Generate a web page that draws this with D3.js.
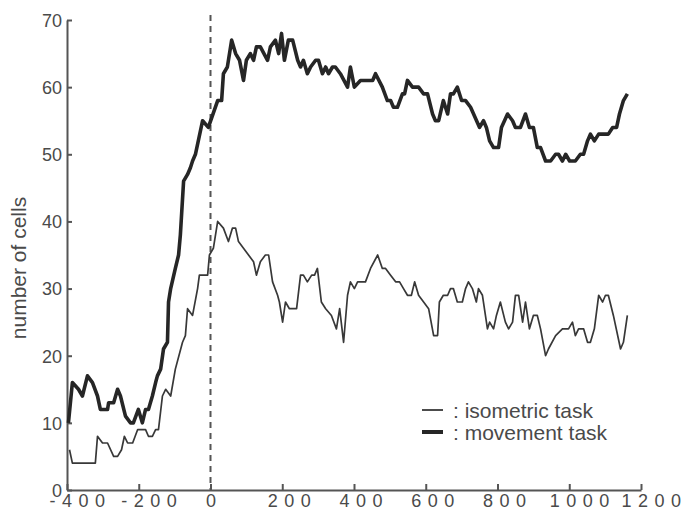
<!DOCTYPE html>
<html>
<head>
<meta charset="utf-8">
<script src="https://cdn.jsdelivr.net/npm/d3@7"></script>
<style>
  body { margin: 0; background: #fff; }
  svg text { font-family: "Liberation Sans", Arial, sans-serif; fill: #4a4a4a; }
</style>
</head>
<body>
<svg id="chart"></svg>
<script>
// time (ms) and number of cells
const moveTime = [-396,-385,-368,-357,-343,-329,-315,-307,-287,-284,-270,-259,-251,-237,-223,-215,-201,-190,-181,-173,-162,-153,-148,-139,-131,-120,-117,-111,-98,-89,-84,-75,-64,-56,-50,-42,-22,-6,20,31,36,47,59,70,81,92,100,111,120,128,139,159,167,181,190,198,206,217,229,243,251,259,270,279,293,301,312,321,329,340,348,362,382,390,401,418,452,460,479,493,502,510,521,535,541,549,563,580,594,605,619,627,636,649,661,669,677,688,700,711,725,750,761,769,778,789,803,811,828,842,850,864,878,889,900,911,920,934,948,962,970,981,990,1001,1017,1031,1040,1051,1059,1070,1082,1109,1121,1132,1140,1151,1162];
const moveCells = [10,16,15,14,17,16,14,12,12,13,13,15,14,11,10,10,12,10,12,12,14,16,17,18,21,22,28,30,33,35,38,46,47,48,49,50,55,54,58,58,62,63,67,65,64,61,64,65,64,66,66,64,66,67,65,68,64,67,67,64,63,64,62,63,64,64,62,63,62,63,63,62,60,63,60,61,61,62,60,58,58,57,57,59,59,61,60,60,59,59,56,55,55,58,56,59,59,60,58,58,57,54,55,54,52,51,51,54,56,55,54,54,56,54,54,51,51,49,49,50,50,49,50,49,49,50,50,52,53,52,53,53,54,54,56,58,59];

const isoTime = [-393,-385,-321,-315,-301,-287,-270,-259,-248,-240,-231,-217,-203,-181,-173,-162,-153,-145,-134,-125,-111,-98,-78,-70,-64,-50,-36,-31,-8,-3,8,20,36,50,61,70,78,92,106,120,128,139,153,162,173,187,192,201,209,220,240,251,259,270,282,290,298,309,321,337,351,360,371,382,390,401,410,432,446,466,479,488,502,516,527,538,549,560,569,580,594,608,622,633,638,649,661,669,677,688,702,711,719,730,741,747,758,772,778,789,797,808,822,831,842,850,859,870,878,889,900,911,920,934,942,962,981,998,1009,1017,1026,1040,1051,1059,1070,1082,1093,1101,1109,1123,1143,1151,1162];
const isoCells = [6,4,4,8,7,7,5,5,6,8,7,7,9,9,8,8,9,9,14,15,14,18,22,23,27,26,30,32,32,35,36,40,39,37,39,39,37,36,35,34,32,34,35,35,31,29,28,25,28,27,27,32,32,31,32,32,33,28,27,26,24,27,22,29,31,30,31,31,33,35,33,33,32,31,31,30,29,29,31,29,28,27,23,23,28,29,29,30,30,28,28,30,31,30,28,30,29,24,25,24,26,28,25,24,25,29,29,25,28,24,26,26,24,20,21,23,24,24,25,23,24,24,22,22,24,29,28,29,29,26,21,22,26];

const xTicks = [-400,-200,0,200,400,600,800,1000,1200];
const yTicks = [0,10,20,30,40,50,60,70];
const legendLabels = [": isometric task", ": movement task"];

const width = 685, height = 515;
const margin = {top: 20, right: 44, bottom: 25, left: 67};
const spacing = 6.5; // wide digit spacing on the x labels

const svg = d3.select('#chart')
    .attr('width', width)
    .attr('height', height);

const x = d3.scaleLinear().domain([-400, 1200]).range([margin.left, width - margin.right]);
const y = d3.scaleLinear().domain([0, 70]).range([height - margin.bottom, margin.top]);

// dashed line at movement onset
svg.append('line')
    .attr('x1', x(0)).attr('x2', x(0))
    .attr('y1', y(70) - 5).attr('y2', y(0))
    .attr('stroke', '#555')
    .attr('stroke-width', 2)
    .attr('stroke-dasharray', '6,5');

// axes, ticks pointing inward
const xAxisG = svg.append('g')
    .attr('transform', `translate(0,${y(0)})`)
    .call(d3.axisBottom(x).tickValues(xTicks).tickFormat(d => String(d))
      .tickSizeInner(-6).tickSizeOuter(0).tickPadding(4));

const yAxisG = svg.append('g')
    .attr('transform', `translate(${x(-400)},0)`)
    .call(d3.axisLeft(y).tickValues(yTicks).tickSizeInner(-5).tickSizeOuter(0).tickPadding(5));

[xAxisG, yAxisG].forEach(g => {
  g.select('.domain').attr('stroke', '#555').attr('stroke-width', 2);
  g.selectAll('.tick line').attr('stroke', '#555').attr('stroke-width', 2);
  g.selectAll('.tick text').attr('fill', '#4a4a4a').style('font-size', '18px');
});

// spaced-out digits: start where the unspaced label would start,
// no spacing after the last character
xAxisG.selectAll('.tick text').each(function(d) {
  const t = d3.select(this);
  const w = this.getComputedTextLength();
  const s = String(d);
  t.text(null)
   .attr('text-anchor', 'start')
   .attr('x', -w / 2);
  if (s.length > 1) {
    t.append('tspan').style('letter-spacing', spacing + 'px').text(s.slice(0, -1));
  }
  t.append('tspan').text(s.slice(-1));
});

yAxisG.selectAll('.tick text').attr('x', -5).attr('dy', '0.35em');

// y label
svg.append('text')
    .attr('transform', 'translate(26,268) rotate(-90)')
    .attr('text-anchor', 'middle')
    .style('font-size', '21px')
    .text('number of cells');

const line = d3.line()
    .x(d => x(d[0]))
    .y(d => y(d[1]));

svg.append('path')
    .datum(isoTime.map((t, i) => [t, isoCells[i]]))
    .attr('fill', 'none')
    .attr('stroke', '#383838')
    .attr('stroke-width', 1.7)
    .attr('stroke-linejoin', 'round')
    .attr('d', line);

svg.append('path')
    .datum(moveTime.map((t, i) => [t, moveCells[i]]))
    .attr('fill', 'none')
    .attr('stroke', '#262626')
    .attr('stroke-width', 3.6)
    .attr('stroke-linejoin', 'round')
    .attr('d', line);

// legend
const legend = svg.append('g');
legendLabels.forEach((lab, i) => {
  legend.append('line')
      .attr('x1', 422).attr('x2', 443)
      .attr('y1', 410 + i * 22).attr('y2', 410 + i * 22)
      .attr('stroke', i === 0 ? '#383838' : '#262626')
      .attr('stroke-width', i === 0 ? 1.8 : 4);
  legend.append('text')
      .attr('x', 453)
      .attr('y', 418 + i * 22)
      .style('font-size', '21px')
      .text(lab);
});
</script>
</body>
</html>
